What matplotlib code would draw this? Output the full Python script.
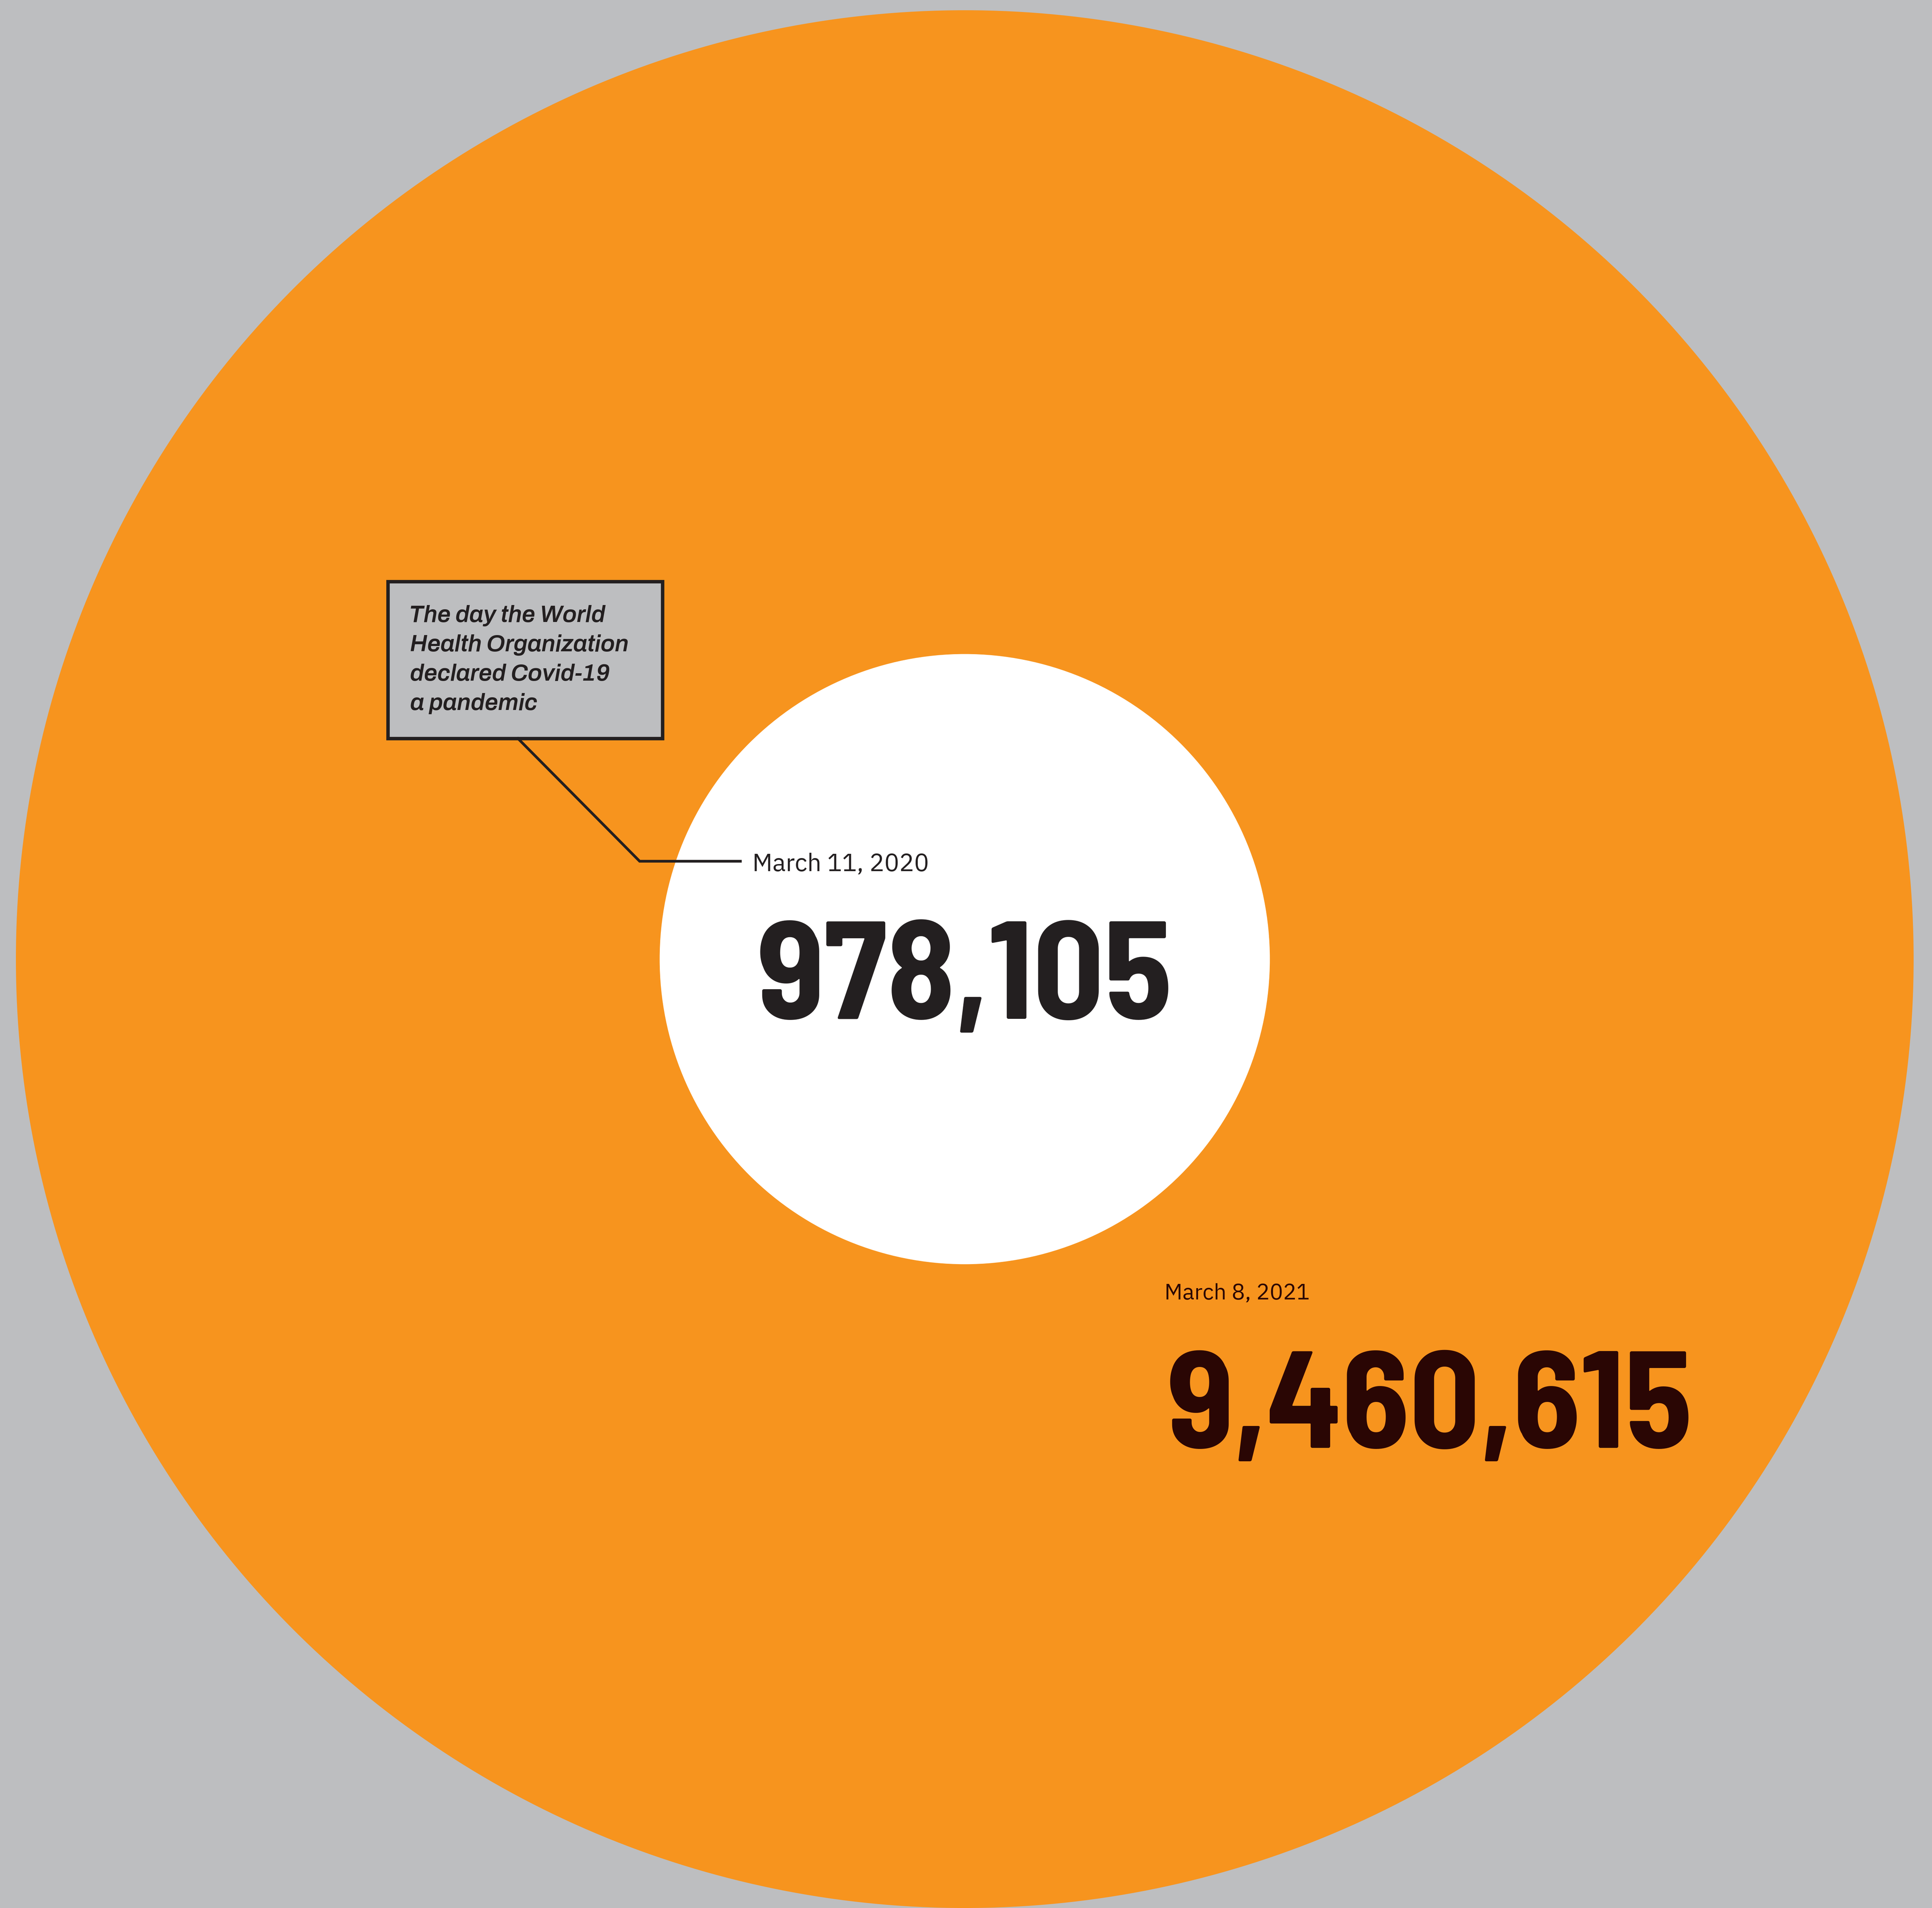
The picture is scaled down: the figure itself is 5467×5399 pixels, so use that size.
import matplotlib
matplotlib.use("Agg")
import matplotlib.pyplot as plt
from matplotlib.font_manager import FontProperties
from matplotlib.patches import Circle, Rectangle
from matplotlib.textpath import TextPath

# Cumulative confirmed cases, one nested circle per date (area ~ cases)
DATES = ["March 11, 2020", "March 8, 2021"]
CASES = [978105, 9460615]
NOTE_LINES = ["The day the World", "Health Organization", "declared Covid-19", "a pandemic"]

W, H, DPI = 5467, 5399, 100
CENTER = (2730, 2714)
R_MAX = 2685  # radius of the biggest circle in px

BG = "#BDBEC0"
ORANGE = "#F7941E"
INK = "#231F20"
INK_DARK = "#2A0604"

NUM_FONT = dict(family=["Barlow Semi Condensed", "Roboto"], weight="bold")
DATE_FONT = dict(family=["IBM Plex Sans", "Liberation Sans"], weight="light")
NOTE_FONT = dict(family=["Archivo", "Open Sans"], weight="bold", style="italic")


def put_text(ax, x_ink, baseline, s, cap_px, color, font):
    """Place text so its ink starts at x_ink and its cap height is cap_px pixels."""
    fp = FontProperties(**font)
    cap = TextPath((0, 0), "H", size=100, prop=fp).get_extents().height
    size_px = cap_px * 100 / cap
    x0 = TextPath((0, 0), s, size=size_px, prop=fp).get_extents().x0
    fp.set_size(size_px * 72 / DPI)
    ax.text(x_ink - x0, baseline, s, fontproperties=fp, color=color,
            ha="left", va="baseline", zorder=5)


fig = plt.figure(figsize=(W / DPI, H / DPI), dpi=DPI, facecolor=BG)
ax = fig.add_axes([0, 0, 1, 1])
ax.set_xlim(0, W)
ax.set_ylim(H, 0)
ax.set_facecolor(BG)
ax.axis("off")

# circles, biggest at the back
scale = R_MAX / max(CASES) ** 0.5
fills = ["white", ORANGE]
for value, fc in sorted(zip(CASES, fills), key=lambda t: -t[0]):
    ax.add_patch(Circle(CENTER, scale * value ** 0.5, facecolor=fc, edgecolor="none", zorder=1))

# callout box + leader line to the first date
ax.add_patch(Rectangle((1098, 1646), 777, 444, facecolor=BG, edgecolor=INK, lw=7, zorder=3))
ax.plot([1466, 1810, 2095], [2090, 2437, 2437], color=INK, lw=5.5, solid_joinstyle="miter", zorder=4)

for i, line in enumerate(NOTE_LINES):
    put_text(ax, 1162, 1759 + i * 83.4, line, 46, INK, NOTE_FONT)

# date + count labels
put_text(ax, 2136, 2465, DATES[0], 49, INK, DATE_FONT)
put_text(ax, 2151, 2883, f"{CASES[0]:,}", 276, INK, NUM_FONT)
put_text(ax, 3301, 3677, DATES[1], 44, INK_DARK, DATE_FONT)
put_text(ax, 3311, 4097, f"{CASES[1]:,}", 274, INK_DARK, NUM_FONT)

fig.savefig("out.png", dpi=DPI, facecolor=BG)
